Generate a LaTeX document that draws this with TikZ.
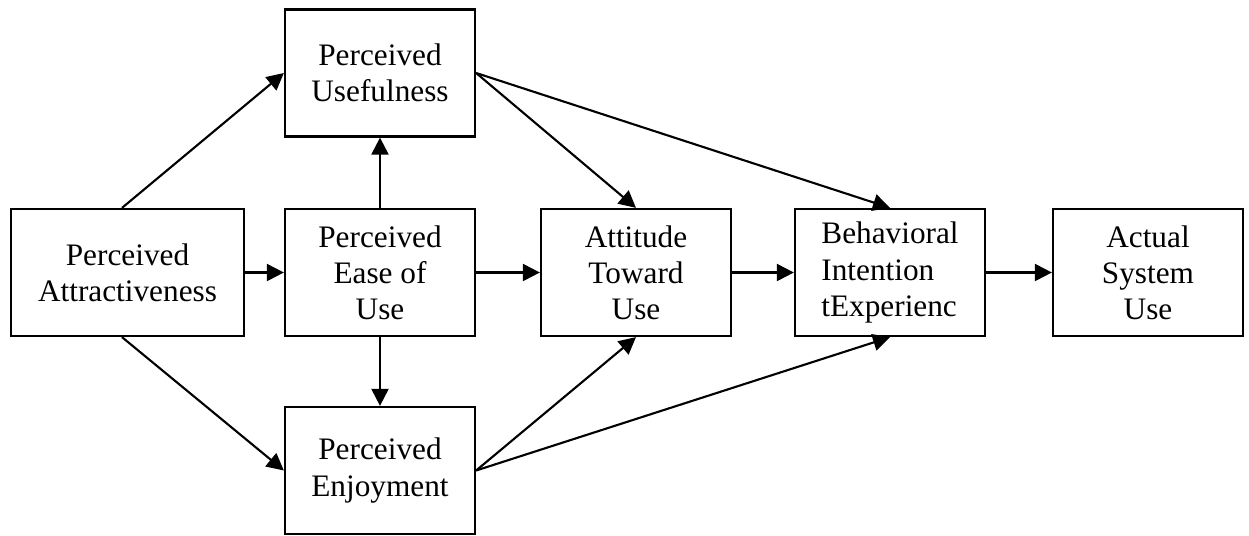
\documentclass[tikz,border=0pt]{standalone}
\usepackage{fontspec}
\setmainfont{Liberation Serif}
\usetikzlibrary{arrows.meta}

\begin{document}
\begin{tikzpicture}[x=0.02cm,y=-0.02cm,
    box/.style={draw,line width=1.3pt,minimum width=3.8cm,minimum height=2.54cm,
      inner sep=0pt,align=center,font=\fontsize{17.8}{20.6}\selectfont},
    link/.style={line width=1.2pt,-{Triangle[length=0.34cm,width=0.34cm]}}]
    \useasboundingbox (0,0) rectangle (1249,535);

    \coordinate (pa) at (127.5,272.5);
    \coordinate (pe) at (380,272.5);
    \coordinate (pu) at (380,73);
    \coordinate (pj) at (380,470.5);
    \coordinate (at) at (636,272.5);
    \coordinate (bi) at (890,272.5);
    \coordinate (as) at (1148,272.5);

    \node (PA) [box,minimum width=4.66cm] at (pa) {Perceived\\Attractiveness};
    \node (PE) [box] at (pe) {Perceived\\Ease of\\Use};
    \node (PU) [box] at (pu) {Perceived\\Usefulness};
    \node (PJ) [box] at (pj) {Perceived\\Enjoyment};
    \node (AT) [box] at (at) {Attitude\\Toward\\Use};
    \node (BI) [box,align=left] at (bi) {Behavioral\\Intention\\tExperienc};
    \node (AS) [box] at (as) {Actual\\System\\Use};

    \draw[link] (PA.east) -- (PE.west);
    \draw[link] ([xshift=-0.11cm]PA.north) -- (PU.west);
    \draw[link] ([xshift=-0.11cm]PA.south) -- (PJ.west);
    \draw[link] (PE.north) -- (PU.south);
    \draw[link] (PE.south) -- (PJ.north);
    \draw[link] (PE.east) -- (AT.west);
    \draw[link] (PU.east) -- (AT.north);
    \draw[link] (PU.east) -- (BI.north);
    \draw[link] (PJ.east) -- (AT.south);
    \draw[link] (PJ.east) -- (BI.south);
    \draw[link] (AT.east) -- (BI.west);
    \draw[link] (BI.east) -- (AS.west);

  \end{tikzpicture}
\end{document}
